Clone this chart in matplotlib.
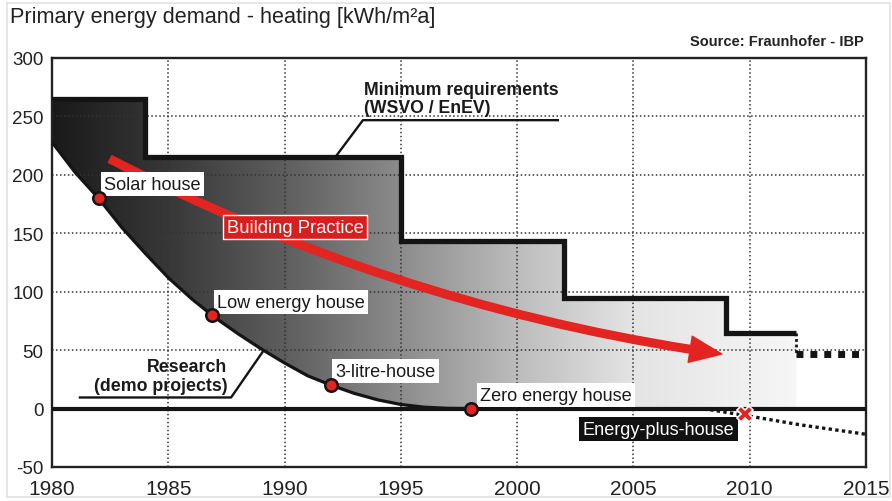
import matplotlib
matplotlib.use("Agg")
import matplotlib.pyplot as plt
import numpy as np
from matplotlib.patches import FancyArrowPatch, Polygon, Rectangle
from matplotlib.colors import LinearSegmentedColormap

plt.rcParams["font.family"] = ["Liberation Sans", "DejaVu Sans"]
plt.rcParams["axes.unicode_minus"] = False

# ── data ────────────────────────────────────────────────────────────────────
req_edges = [1980, 1984, 1995, 2002, 2009, 2012]      # WSVO / EnEV steps
req_vals = [265, 215, 143, 95, 65]
future_edges = [2012, 2015]
future_vals = [47]

research_years = [1980, 1981, 1982, 1983, 1984, 1985, 1986, 1987, 1988, 1989,
                  1990, 1991, 1992, 1993, 1994, 1995, 1996, 1997, 1998]
research_vals = [228, 202, 180, 155, 133, 112, 94, 78, 64, 51,
                 39, 28, 20, 13, 7.5, 3.5, 1.2, 0.2, 0]

house_names = ["Solar house", "Low energy house", "3-litre-house", "Zero energy house"]
house_years = [1982, 1986.9, 1992, 1998]
house_vals = [180, 80, 20, 0]
label_years = [1982.25, 1987.1, 1992.2, 1998.4]
label_vals = [192, 91, 32, 11.5]

plus_years = [2008.3, 2009.7, 2012.2, 2015]
plus_vals = [-1, -5.5, -14, -22]
plus_star = (2009.8, -5)

practice_years = [1982.5, 2008.8]
practice_vals = [213.5, 46.7]

req_leader_x = [1992.25, 1993.37, 2001.75]
req_leader_y = [217, 246.8, 246.8]
res_leader_x = [1981.2, 1987.7, 1989.05]
res_leader_y = [9.5, 9.5, 48.3]

x_ticks = list(range(1980, 2016, 5))
y_ticks = list(range(-50, 301, 50))

RED = "#e32420"
INK = "#141414"

fig = plt.figure(figsize=(8.92, 5.02), dpi=100)
fig.patch.set_facecolor("white")
ax = fig.add_axes([52 / 892, 34 / 502, 814 / 892, 409 / 502])
ax.set_xlim(1980, 2015)
ax.set_ylim(-50, 300)

# ── gradient area between research curve and requirement steps ─────────────
top_x = np.repeat(req_edges, 2)[1:-1]
top_y = np.repeat(req_vals, 2)
bot_x = list(research_years) + [req_edges[-1]]
bot_y = list(research_vals) + [0]
verts = list(zip(top_x, top_y)) + list(zip(bot_x, bot_y))[::-1]
poly = Polygon(verts, closed=True, facecolor="none", edgecolor="none")
ax.add_patch(poly)
grey = LinearSegmentedColormap.from_list(
    "g", [(0.0, "#1a1a1a"), (5 / 32, "#383838"), (10 / 32, "#5e5e5e"),
          (15 / 32, "#8c8c8c"), (20 / 32, "#bcbcbc"), (25 / 32, "#e4e4e4"),
          (1.0, "#f6f6f6")])
img = ax.imshow(np.linspace(0, 1, 256)[None, :], cmap=grey, aspect="auto",
                extent=[req_edges[0], req_edges[-1], 0, max(req_vals)],
                zorder=0.5, interpolation="bilinear")
img.set_clip_path(poly)

# ── grid ───────────────────────────────────────────────────────────────────
ax.set_xticks(x_ticks)
ax.set_yticks(y_ticks)
ax.set_axisbelow("line")
ax.grid(True, color="#333333", lw=1.1, linestyle=(0, (1, 1.6)))
ax.tick_params(length=0)
ax.tick_params(axis="x", labelsize=15, pad=8.5, colors="#222")
ax.tick_params(axis="y", labelsize=13.5, pad=6, colors="#222")
for s in ax.spines.values():
    s.set_color("#222")
    s.set_linewidth(1.7)

# ── lines ──────────────────────────────────────────────────────────────────
ax.axhline(0, color=INK, lw=3, zorder=3)
ax.stairs(req_vals, req_edges, baseline=None, color=INK, lw=3.8, zorder=4)
ax.plot([future_edges[0]] * 2, [req_vals[-1], future_vals[0]], color=INK,
        lw=2, linestyle=(0, (1, 1)), zorder=4)
ax.stairs(future_vals, future_edges, baseline=None, color=INK, lw=5,
          linestyle=(0, (1, 1)), zorder=4)
ax.plot(research_years, research_vals, color=INK, lw=2.3, zorder=3,
        solid_joinstyle="round")
ax.plot(plus_years, plus_vals, color=INK, lw=2.4, linestyle=(0, (1, 1)),
        zorder=3)
ax.plot(req_leader_x, req_leader_y, color=INK, lw=1.7, zorder=4)
ax.plot(res_leader_x, res_leader_y, color=INK, lw=1.7, zorder=4)

# ── building practice arrow ────────────────────────────────────────────────
arr = FancyArrowPatch((practice_years[0], practice_vals[0]),
                      (practice_years[1], practice_vals[1]),
                      connectionstyle="arc3,rad=0.085",
                      arrowstyle="simple,head_length=2.3,head_width=1.9,tail_width=0.55",
                      mutation_scale=10, color=RED, shrinkA=0, shrinkB=0,
                      zorder=5)
ax.add_patch(arr)
ax.text(1990.45, 155.3, "Building Practice", ha="center", va="center",
        fontsize=13.2, color="white", zorder=7,
        bbox=dict(boxstyle="square,pad=0.18", fc="#d71f1f", ec="white", lw=1))

# ── research houses ────────────────────────────────────────────────────────
for name, lx, ly in zip(house_names, label_years, label_vals):
    ax.text(lx, ly, name, ha="left", va="center", fontsize=13.1, color="#1a1a1a",
            zorder=5, bbox=dict(boxstyle="square,pad=0.18", fc="white", ec="none"))
ax.plot(house_years, house_vals, "o", ms=9, mfc=RED, mec=INK, mew=1.8,
        zorder=6)

ax.text(2002.82, -17.6, "Energy-plus-house", ha="left", va="center",
        fontsize=13.1, color="white", zorder=5,
        bbox=dict(boxstyle="square,pad=0.18", fc="#111", ec="none"))
ax.plot(*plus_star, marker="X", ms=11, mfc=RED, mec="white", mew=1.2,
        zorder=6)

# ── annotations ────────────────────────────────────────────────────────────
ax.text(1993.4, 265.5, "Minimum requirements\n(WSVO / EnEV)", ha="left",
        va="center", fontsize=12.7, fontweight="bold", color="#1a1a1a",
        linespacing=1.1, zorder=5)
ax.text(1987.55, 28, "Research\n(demo projects)", ha="right", va="center",
        multialignment="right", fontsize=12.8, fontweight="bold",
        color="#1a1a1a", linespacing=1.1, zorder=5)

fig.text(10 / 892, 1 - 17 / 502, "Primary energy demand - heating [kWh/m²a]",
         ha="left", va="center", fontsize=15.6, color="#222")
fig.text(864 / 892, 1 - 42 / 502, "Source: Fraunhofer - IBP", ha="right",
         va="center", fontsize=10.5, fontweight="bold", color="#222")
fig.patches.append(Rectangle((7 / 892, 4 / 502), 883 / 892, 494 / 502,
                             transform=fig.transFigure, fill=False,
                             ec="#e2e2e2", lw=1.2))

fig.savefig("out.png", dpi=100, facecolor="white")
